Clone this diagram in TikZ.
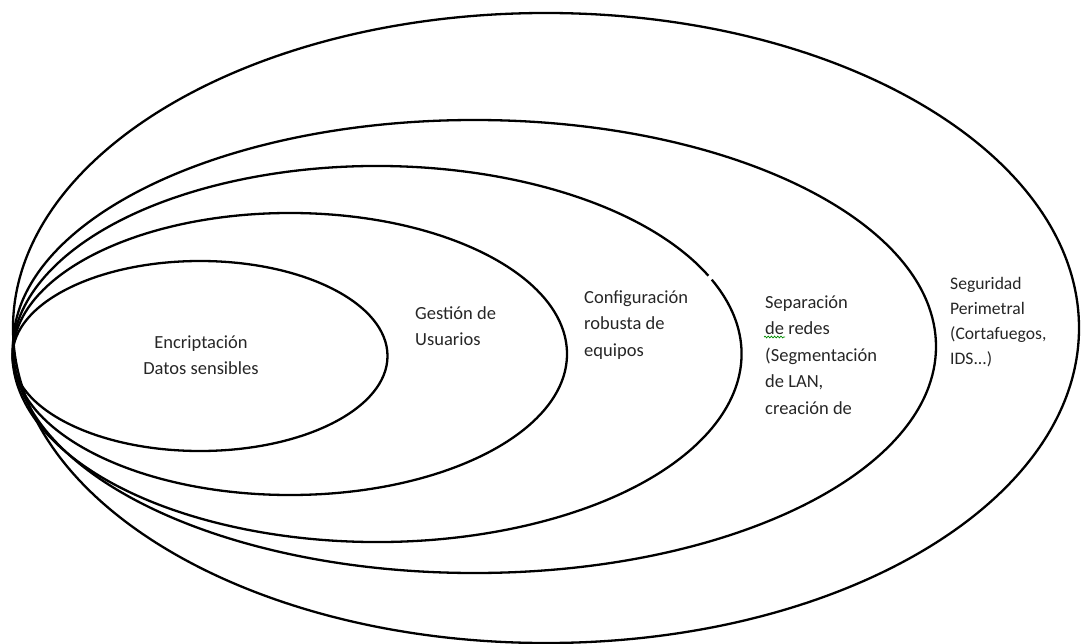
\documentclass[tikz,border=0pt]{standalone}
\usepackage{fontspec}
\setmainfont{Carlito}
\usetikzlibrary{decorations.pathmorphing}

\begin{document}
\begin{tikzpicture}[x=1pt, y=-1pt,
  ring/.style={draw=black, line width=2.3pt},
  txt/.style={inner sep=0pt, align=left, anchor=west, text=black!85, font=\fontsize{18.5}{26.5}\selectfont},
  smalltxt/.style={txt, font=\fontsize{17.6}{25}\selectfont},
  spell/.style={draw=green!55!black, line width=0.7pt, decorate, decoration={snake, amplitude=0.9pt, segment length=3.2pt}}
]
\useasboundingbox (0,0) rectangle (1081,644);
\draw[ring] (200,356) ellipse[x radius=187.5, y radius=95];
\draw[ring] (290,354) ellipse[x radius=277, y radius=141];
\draw[ring] ([shift={(-23.3:364.5 and 188)}]377,354) arc[start angle=-23.3, end angle=335.4, x radius=364.5, y radius=188];
\draw[ring] (474.5,346.5) ellipse[x radius=461.5, y radius=226.5];
\draw[ring] (546,328) ellipse[x radius=533, y radius=315];

\node[txt, align=center, anchor=center] (encript) at (201,355) {Encriptación\\Datos sensibles};
\node[txt] (gestion) at (415,326) {Gestión de\\Usuarios};
\node[txt] (config) at (584,325) {Configuración\\robusta de\\equipos};
\node[txt] (separ) at (765,355) {Separación\\de redes\\(Segmentación\\de LAN,\\creación de};
\node[smalltxt] (segur) at (950,322) {Seguridad\\Perimetral\\(Cortafuegos,\\IDS...)};
\draw[spell] (764,337) -- (785,337);
\end{tikzpicture}
\end{document}
